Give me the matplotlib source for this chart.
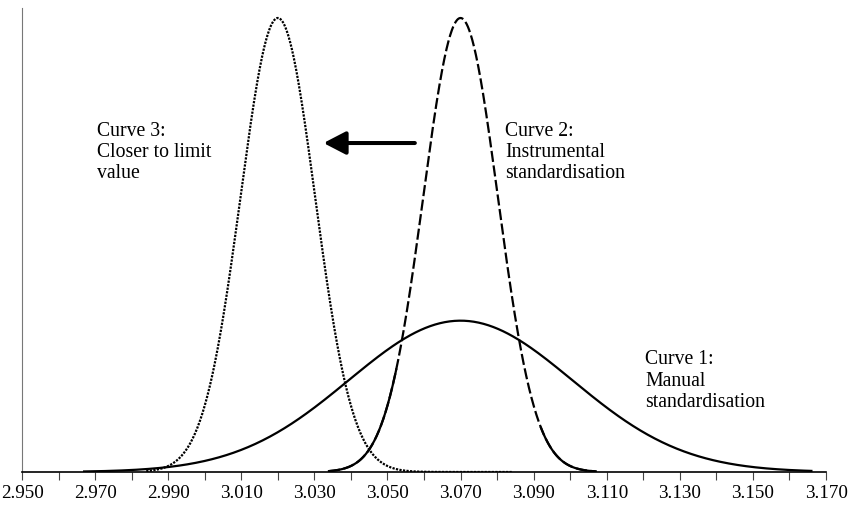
import numpy as np
import matplotlib
matplotlib.use("Agg")
import matplotlib.pyplot as plt
from matplotlib.patches import ArrowStyle

# curve parameters (normal distributions)
curve_names = ["Curve 1", "Curve 2", "Curve 3"]
means = [3.070, 3.070, 3.020]
sds = [0.0306, 0.0102, 0.0102]
x_from = [2.967, 3.034, 2.984]
x_to = [3.166, 3.107, 3.084]
labels = ["Curve 1:\nManual\nstandardisation",
          "Curve 2:\nInstrumental\nstandardisation",
          "Curve 3:\nCloser to limit\nvalue"]
label_x = [3.1205, 3.0822, 2.9705]
label_y = [0.262, 0.755, 0.755]

x_ticks = np.round(np.arange(2.950, 3.1701, 0.020), 3)
x_minor = np.round(np.arange(2.950, 3.1701, 0.010), 3)

plt.rcParams['font.family'] = ['Liberation Serif', 'DejaVu Serif']

fig = plt.figure(figsize=(8.62, 5.05), dpi=100)
ax = fig.add_axes([22 / 862, 1 - 472 / 505, 804 / 862, 464 / 505])


def pdf(x, m, s):
    return np.exp(-0.5 * ((x - m) / s) ** 2) / (s * np.sqrt(2 * np.pi))


# curve 1: solid
x1 = np.linspace(x_from[0], x_to[0], 600)
ax.plot(x1, pdf(x1, means[0], sds[0]), color='black', lw=1.6)

# curve 2: long dashes on the steep part, solid at the feet
x2 = np.linspace(x_from[1], x_to[1], 600)
y2 = pdf(x2, means[1], sds[1])
ax.plot(x2, y2, color='black', lw=1.6, dashes=(5, 1.6))
left = x2 <= 3.0525
right = x2 >= 3.092
ax.plot(x2[left], y2[left], color='black', lw=1.6)
ax.plot(x2[right], y2[right], color='black', lw=1.6)

# curve 3: dotted
x3 = np.linspace(x_from[2], x_to[2], 600)
ax.plot(x3, pdf(x3, means[2], sds[2]), color='black', lw=1.6, dashes=(1, 0.6))

peak = pdf(means[1], means[1], sds[1])
ax.set_ylim(0, peak * 464 / 454)
ax.set_xlim(2.950, 3.170)

for txt, tx, ty in zip(labels, label_x, label_y):
    ax.text(tx, ty, txt, transform=ax.get_xaxis_transform(), fontsize=14.2,
            va='top', ha='left', linespacing=1.15)

# arrow pointing from curve 2 toward curve 3
style = ArrowStyle('-|>', head_length=1.35, head_width=0.7)
ax.annotate("", xy=(3.0325, 0.709), xytext=(3.0575, 0.709),
            xycoords=ax.get_xaxis_transform(), textcoords=ax.get_xaxis_transform(),
            arrowprops=dict(arrowstyle=style, mutation_scale=10, lw=2.9,
                            color='black', shrinkA=0, shrinkB=0))

ax.set_xticks(x_ticks)
ax.set_xticklabels([f"{v:.3f}" for v in x_ticks], fontsize=13.8)
ax.set_xticks(x_minor, minor=True)
ax.tick_params(axis='x', which='both', direction='out', length=6, width=0.8,
               color='#444444', pad=3)
ax.set_yticks([])

ax.spines['top'].set_visible(False)
ax.spines['right'].set_visible(False)
ax.spines['left'].set_color('#777777')
ax.spines['left'].set_linewidth(0.8)
ax.spines['bottom'].set_linewidth(1.2)

fig.savefig("out.png", dpi=100)
